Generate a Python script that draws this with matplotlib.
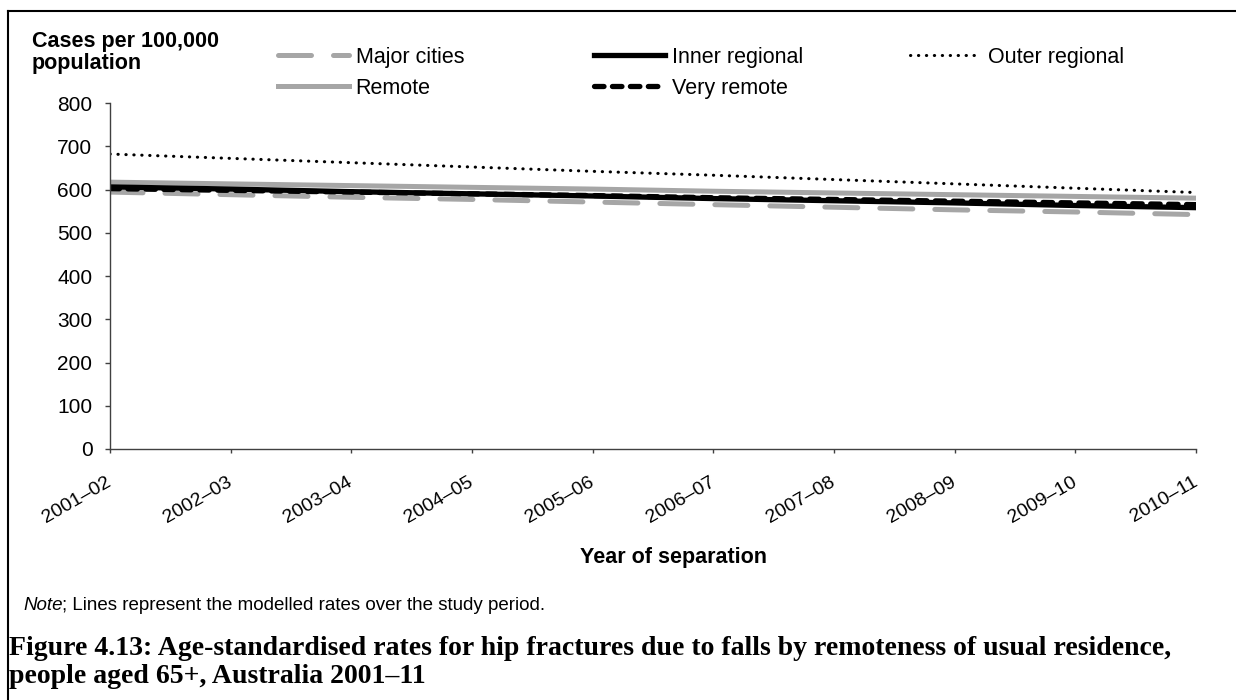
import matplotlib
matplotlib.use('Agg')
import matplotlib.pyplot as plt
from matplotlib.lines import Line2D

plt.rcParams['font.family'] = ['Liberation Sans', 'DejaVu Sans']

years = ['2001–02', '2002–03', '2003–04', '2004–05', '2005–06',
         '2006–07', '2007–08', '2008–09', '2009–10', '2010–11']

major_cities = [594, 588, 582, 577, 571, 565, 559, 553, 548, 542]
inner_regional = [606, 601, 595, 590, 585, 579, 574, 569, 563, 558]
outer_regional = [682, 672, 662, 652, 642, 633, 623, 613, 603, 593]
remote = [617, 613, 609, 605, 601, 596, 592, 588, 584, 580]
very_remote = [602, 598, 594, 590, 586, 581, 577, 573, 569, 565]

grey = '#a6a6a6'
W, H = 1236, 700

fig = plt.figure(figsize=(W / 100, H / 100), dpi=100)
ax = fig.add_axes([110 / W, 1 - 449 / H, (1196 - 110) / W, (449 - 103) / H])

x = range(len(years))
l_major, = ax.plot(x, major_cities, color=grey, lw=3.6, dashes=(6.6, 4.4), dash_capstyle='round')
l_remote, = ax.plot(x, remote, color=grey, lw=3.6)
l_inner, = ax.plot(x, inner_regional, color='black', lw=3.8)
l_very, = ax.plot(x, very_remote, color='black', lw=3.8, dashes=(1.8, 1.6), dash_capstyle='round')
l_outer, = ax.plot(x, outer_regional, color='black', lw=2.2, dashes=(0.1, 2.5), dash_capstyle='round')

ax.set_xlim(0, len(years) - 1)
ax.set_ylim(0, 800)
ax.set_yticks(range(0, 801, 100))
ax.set_xticks(list(x))
ax.set_xticklabels(years, rotation=30, ha='right', va='center', rotation_mode='anchor', fontsize=14)
ax.tick_params(axis='y', labelsize=15, length=3.6, width=1, color='#404040', pad=9)
ax.tick_params(axis='x', length=3.2, width=1, color='#404040', pad=20)
for s in ['top', 'right']:
    ax.spines[s].set_visible(False)
for s in ['left', 'bottom']:
    ax.spines[s].set_color('#404040')
    ax.spines[s].set_linewidth(1)

fig.text(674 / W, 1 - 558 / H, 'Year of separation', fontsize=15.5, fontweight='bold',
         ha='center', va='center')

# legend: three columns, placed like the original
leg_cols = [([l_major, l_remote], ['Major cities', 'Remote'], 278),
            ([l_inner, l_very], ['Inner regional', 'Very remote'], 594),
            ([l_outer], ['Outer regional'], 910)]
for handles, labels, xpos in leg_cols:
    fig.legend(handles, labels, loc='upper left', bbox_to_anchor=(xpos / W, 1 - 47 / H),
               frameon=False, fontsize=15.5, handlelength=3.3, handletextpad=0.3,
               labelspacing=0.45, borderpad=0, borderaxespad=0)

fig.text(32 / W, 1 - 31 / H, 'Cases per 100,000\npopulation', fontsize=15.5, fontweight='bold',
         va='top', ha='left', linespacing=1.05)

fig.text(23 / W, 1 - 605 / H, 'Note', fontsize=13.5, style='italic', va='center')
fig.text(62 / W, 1 - 605 / H, '; Lines represent the modelled rates over the study period.',
         fontsize=13.5, va='center')

caption = ['Figure 4.13: Age-standardised rates for hip fractures due to falls by remoteness of usual residence,',
           'people aged 65+, Australia 2001–11']
for line, base in zip(caption, [655, 683]):
    fig.text(9 / W, 1 - base / H, line, fontsize=20, fontweight='bold',
             family=['Liberation Serif', 'DejaVu Serif'], va='baseline', ha='left')

# border of the figure box
fig.add_artist(Line2D([7.5 / W, 7.5 / W], [0.0, 1 - 11 / H], color='black', lw=1.5, transform=fig.transFigure))
fig.add_artist(Line2D([7.5 / W, 1.0], [1 - 11 / H, 1 - 11 / H], color='black', lw=1.5, transform=fig.transFigure))

fig.savefig('out.png', dpi=100)
